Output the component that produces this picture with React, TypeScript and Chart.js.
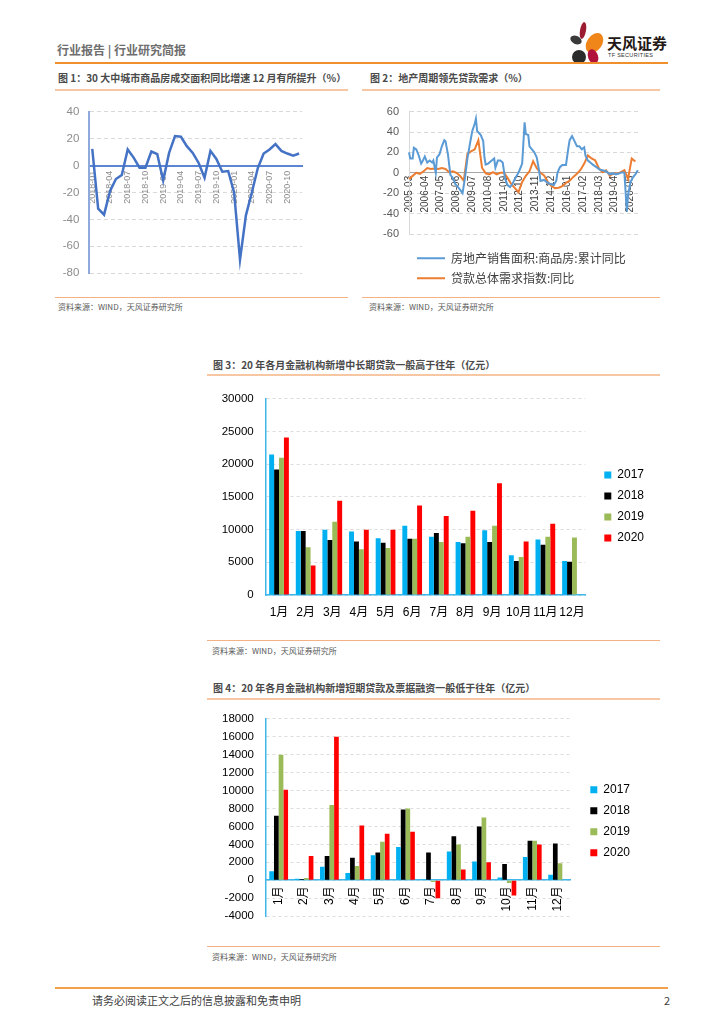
import React, { useEffect, useRef } from 'react';
import { Chart, registerables } from 'chart.js';

Chart.register(...registerables);

const NUM_FONT = "'Liberation Sans', 'Noto Sans CJK SC', sans-serif";
const CJK_FONT = "'Noto Sans CJK SC', 'Liberation Sans', sans-serif";

// ---------- Chart 1 data ----------
const c1Labels = [
  '2018-01', '2018-02', '2018-03', '2018-04', '2018-05', '2018-06', '2018-07', '2018-08', '2018-09', '2018-10', '2018-11', '2018-12',
  '2019-01', '2019-02', '2019-03', '2019-04', '2019-05', '2019-06', '2019-07', '2019-08', '2019-09', '2019-10', '2019-11', '2019-12',
  '2020-01', '2020-02', '2020-03', '2020-04', '2020-05', '2020-06', '2020-07', '2020-08', '2020-09', '2020-10', '2020-11', '2020-12',
];
const c1Values = [
  12.5, -32, -36.5, -19, -10, -7, 12, 6, -1.5, -1.5, 10.5, 8.5,
  -11, 9.5, 22, 21.5, 14.5, 9.5, 2, -9, 11, 5, -4.5, -4,
  -20, -70, -37, -20, -2, 9, 12, 16, 11, 9, 7.5, 9,
];

// ---------- Chart 2 data ----------
const c2Start = [2005, 3];
const c2End = [2020, 12];
const c2Blue: [string, number][] = [
  ['2005-03', 20], ['2005-04', 14], ['2005-06', 14], ['2005-07', 24.5], ['2005-09', 23], ['2005-11', 17],
  ['2006-01', 9], ['2006-02', 11], ['2006-04', 16], ['2006-06', 10], ['2006-08', 12], ['2006-10', 10], ['2006-11', 12],
  ['2007-01', 0], ['2007-02', 15], ['2007-04', 18], ['2007-06', 26], ['2007-08', 32], ['2007-09', 31], ['2007-11', 18],
  ['2008-01', -2], ['2008-03', -5], ['2008-05', -11], ['2008-08', -15], ['2008-11', -20],
  ['2009-01', -5], ['2009-03', 14], ['2009-05', 28], ['2009-07', 41], ['2009-09', 48], ['2009-10', 53], ['2009-11', 41],
  ['2010-02', 37], ['2010-04', 31], ['2010-05', 15], ['2010-06', 8], ['2010-08', 9], ['2010-11', 12],
  ['2011-01', 14], ['2011-02', 5], ['2011-04', 12], ['2011-06', 12], ['2011-08', 10], ['2011-10', -6], ['2011-12', -12],
  ['2012-02', -14], ['2012-04', -11], ['2012-06', -6], ['2012-08', -2], ['2012-10', 3], ['2012-12', 9],
  ['2013-02', 49.5], ['2013-03', 38], ['2013-05', 37], ['2013-06', 26], ['2013-08', 23], ['2013-10', 20], ['2013-12', 15],
  ['2014-02', 1.5], ['2014-03', -8], ['2014-06', -7], ['2014-08', -9], ['2014-11', -11],
  ['2015-02', -12], ['2015-04', -8], ['2015-05', 0], ['2015-07', 5.5], ['2015-09', 7.7], ['2015-11', 7.7], ['2015-12', 7.7],
  ['2016-02', 24.6], ['2016-03', 32], ['2016-05', 36], ['2016-07', 31], ['2016-09', 26], ['2016-11', 26],
  ['2017-01', 23], ['2017-03', 25], ['2017-04', 17], ['2017-06', 12], ['2017-08', 10], ['2017-10', 8],
  ['2018-01', 5.5], ['2018-04', 3], ['2018-06', 2.5], ['2018-09', 1.5], ['2018-12', -1.5],
  ['2019-03', -0.6], ['2019-05', -1.5], ['2019-08', -0.6], ['2019-10', 0.6], ['2019-12', 0],
  ['2020-02', -38], ['2020-03', -22], ['2020-05', -9], ['2020-07', -4.5], ['2020-09', -1.5], ['2020-11', 2.5],
];
const c2Orange: [string, number][] = [
  ['2005-03', -6], ['2005-06', -3], ['2005-09', 0], ['2005-12', -1],
  ['2006-03', 1.5], ['2006-06', 4.6], ['2006-09', 3.7], ['2006-12', 4.2],
  ['2007-03', 3.7], ['2007-06', 4.6], ['2007-09', 3.7], ['2007-12', 0.6],
  ['2008-03', 1.5], ['2008-06', 0], ['2008-09', -3], ['2008-12', -7.7],
  ['2009-03', 18.5], ['2009-06', 21], ['2009-09', 23], ['2009-12', 32],
  ['2010-03', 5], ['2010-06', -0.6], ['2010-09', -1.5], ['2010-12', 0.6],
  ['2011-03', -1.5], ['2011-06', 0], ['2011-09', 0], ['2011-12', -5],
  ['2012-03', -11], ['2012-06', -15], ['2012-09', -19], ['2012-12', -9],
  ['2013-03', -3], ['2013-06', 1.5], ['2013-09', 11.4], ['2013-12', 4.6],
  ['2014-03', 0], ['2014-06', -2.5], ['2014-09', -9], ['2014-12', -13],
  ['2015-03', -15], ['2015-06', -14.6], ['2015-09', -13], ['2015-12', -10],
  ['2016-03', -7.7], ['2016-06', -4], ['2016-09', -1], ['2016-12', 3],
  ['2017-03', 9], ['2017-06', 17], ['2017-09', 14], ['2017-12', 12.3],
  ['2018-03', 4.6], ['2018-06', 0.6], ['2018-09', 2.5], ['2018-12', -3],
  ['2019-03', -0.6], ['2019-06', -1], ['2019-09', 0.6], ['2019-12', 2.5],
  ['2020-03', -6], ['2020-06', 14], ['2020-09', 11],
];
const c2SeriesNames = ['房地产销售面积:商品房:累计同比', '贷款总体需求指数:同比'];

// ---------- Chart 3 & 4 data ----------
const monthLabels = ['1月', '2月', '3月', '4月', '5月', '6月', '7月', '8月', '9月', '10月', '11月', '12月'];
const yearNames = ['2017', '2018', '2019', '2020'];
const yearColors = ['#00B0F0', '#000000', '#9BBB59', '#FF0000'];

const c3_2017 = [21500, 9800, 10000, 9700, 8700, 10600, 8900, 8100, 9900, 6100, 8500, 5200];
const c3_2018 = [19200, 9800, 8400, 8200, 8000, 8600, 9500, 7900, 8100, 5200, 7700, 5100];
const c3_2019 = [21000, 7300, 11200, 7000, 7200, 8600, 8100, 8900, 10600, 5800, 8900, 8800];
const c3_2020 = [24100, 4500, 14400, 10000, 10000, 13700, 12100, 12900, 17100, 8200, 10900, null];

const c4_2017 = [1000, 180, 1500, 800, 2800, 3700, 40, 3200, 2100, 300, 2600, 600];
const c4_2018 = [7200, 150, 2700, 2500, 3100, 7900, 3100, 4900, 6000, 1800, 4400, 4100];
const c4_2019 = [14000, 250, 8400, 1600, 4300, 8000, -200, 4000, 7000, -300, 4400, 1900];
const c4_2020 = [10100, 2700, 16000, 6100, 5200, 5400, -2000, 1200, 2000, -1700, 4000, null];

function monthList(start: number[], end: number[]) {
  const out: string[] = [];
  let y = start[0];
  let m = start[1];
  while (y < end[0] || (y === end[0] && m <= end[1])) {
    out.push(`${y}-${String(m).padStart(2, '0')}`);
    m += 1;
    if (m > 12) { m = 1; y += 1; }
  }
  return out;
}

const plainNum = (v: any) => String(v);

function ChartBox(props: { make: () => any; left: number; top: number; width: number; height: number }) {
  const ref = useRef<HTMLCanvasElement>(null);
  useEffect(() => {
    const chart = new Chart(ref.current as HTMLCanvasElement, props.make());
    return () => chart.destroy();
  }, []);
  return (
    <canvas
      ref={ref}
      width={props.width}
      height={props.height}
      style={{ position: 'absolute', left: props.left, top: props.top, width: props.width, height: props.height }}
    />
  );
}

function makeChart1() {
  return {
    type: 'line',
    data: {
      labels: c1Labels,
      datasets: [{ data: c1Values, borderColor: '#4472C4', backgroundColor: '#4472C4', borderWidth: 2.5, pointRadius: 0, tension: 0, fill: false }],
    },
    options: {
      animation: false,
      responsive: false,
      layout: { padding: { top: 12, right: 6, bottom: 11, left: 0 } },
      plugins: { legend: { display: false }, tooltip: { enabled: false } },
      scales: {
        x: {
          type: 'category',
          offset: true,
          position: { y: 0 },
          grid: { display: false, drawTicks: false },
          border: { display: true, color: '#5b85d3', width: 2 },
          ticks: {
            autoSkip: false,
            minRotation: 90,
            maxRotation: 90,
            padding: 5,
            color: '#8c8c8c',
            font: { size: 9, family: NUM_FONT },
            callback: function (this: any, v: any, i: number) { return i % 3 === 0 ? this.getLabelForValue(v) : ''; },
          },
        },
        y: {
          min: -80,
          max: 40,
          afterFit: (s: any) => { s.width = 39.3; },
          grid: { color: '#d9d9d9', drawTicks: false, lineWidth: 1 },
          border: { display: true, color: '#8eaadb', width: 2, dash: [4, 3] },
          ticks: { stepSize: 20, padding: 10, color: '#8c8c8c', font: { size: 11.5, family: NUM_FONT }, callback: plainNum },
        },
      },
    },
  };
}

function makeChart2() {
  const labels = monthList(c2Start, c2End);
  return {
    type: 'line',
    data: {
      labels,
      datasets: [
        { label: c2SeriesNames[0], data: c2Blue.map(([x, y]) => ({ x, y })), borderColor: '#5B9BD5', backgroundColor: '#5B9BD5', borderWidth: 2, pointRadius: 0, tension: 0 },
        { label: c2SeriesNames[1], data: c2Orange.map(([x, y]) => ({ x, y })), borderColor: '#ED7D31', backgroundColor: '#ED7D31', borderWidth: 2, pointRadius: 0, tension: 0 },
      ],
    },
    options: {
      animation: false,
      responsive: false,
      layout: { padding: { top: 11.7, right: 21, bottom: 0.8, left: 0 } },
      plugins: {
        tooltip: { enabled: false },
        legend: {
          position: 'bottom',
          align: 'start',
          fullSize: false,
          title: { display: true, text: '', font: { size: 1 }, padding: { top: 9, bottom: 0 } },
          labels: {
            usePointStyle: true,
            pointStyle: 'line',
            pointStyleWidth: 28,
            padding: 8,
            color: '#404040',
            font: { size: 12, family: CJK_FONT },
          },
        },
      },
      scales: {
        x: {
          type: 'category',
          offset: false,
          position: { y: 0 },
          grid: { display: false, drawTicks: false },
          border: { display: true, color: '#a6a6a6', width: 1 },
          ticks: {
            autoSkip: false,
            minRotation: 90,
            maxRotation: 90,
            padding: 3,
            color: '#404040',
            font: { size: 10, family: NUM_FONT },
            callback: function (this: any, v: any, i: number) { return i % 13 === 0 ? this.getLabelForValue(v) : ''; },
          },
        },
        y: {
          min: -60,
          max: 60,
          afterFit: (s: any) => { s.width = 47; },
          grid: { color: '#d9d9d9', drawTicks: false },
          border: { display: true, color: '#d9d9d9', width: 1, dash: [4, 3] },
          ticks: { stepSize: 20, padding: 10, color: '#595959', font: { size: 11, family: NUM_FONT }, callback: plainNum },
        },
      },
    },
  };
}

function barDatasets(series: (number | null)[][]) {
  return series.map((d, i) => ({
    label: yearNames[i],
    data: d,
    backgroundColor: yearColors[i],
    borderColor: yearColors[i],
    borderWidth: 0,
    barPercentage: 1,
    categoryPercentage: 0.74,
  }));
}

function barLegend() {
  return {
    position: 'right',
    align: 'center',
    labels: { boxWidth: 7, boxHeight: 7, padding: 9, color: '#000', font: { size: 12, family: NUM_FONT } },
  };
}

function makeChart3() {
  return {
    type: 'bar',
    data: { labels: monthLabels, datasets: barDatasets([c3_2017, c3_2018, c3_2019, c3_2020]) },
    options: {
      animation: false,
      responsive: false,
      layout: { padding: { top: 15, right: 2, bottom: 12, left: 0 } },
      plugins: { tooltip: { enabled: false }, legend: barLegend() },
      scales: {
        x: {
          afterFit: (s: any) => { s.height = 23; },
          grid: { display: false, drawTicks: false },
          border: { display: true, color: '#3db7ec', width: 1.5 },
          ticks: { padding: 10, color: '#000', font: { size: 12, family: NUM_FONT }, autoSkip: false, maxRotation: 0 },
        },
        y: {
          min: 0,
          max: 30000,
          afterFit: (s: any) => { s.width = 65.7; },
          grid: { color: '#dcdcdc', drawTicks: false },
          border: { display: true, color: '#3db7ec', width: 1.5, dash: [3, 3] },
          ticks: { stepSize: 5000, padding: 12, color: '#000', font: { size: 11.5, family: NUM_FONT }, callback: plainNum },
        },
        yR: {
          position: 'right',
          display: true,
          afterFit: (s: any) => { s.width = 10; },
          grid: { display: false, drawTicks: false },
          border: { display: false },
          ticks: { display: false },
        },
      },
    },
  };
}

function makeChart4() {
  return {
    type: 'bar',
    data: { labels: monthLabels, datasets: barDatasets([c4_2017, c4_2018, c4_2019, c4_2020]) },
    options: {
      animation: false,
      responsive: false,
      layout: { padding: { top: 18.3, right: 2, bottom: 11, left: 0 } },
      plugins: { tooltip: { enabled: false }, legend: barLegend() },
      scales: {
        x: {
          position: { y: 0 },
          grid: { display: false, drawTicks: false },
          border: { display: true, color: '#3db7ec', width: 1.5 },
          ticks: { padding: 6, color: '#000', font: { size: 12, family: NUM_FONT }, autoSkip: false, minRotation: 90, maxRotation: 90 },
        },
        y: {
          min: -4000,
          max: 18000,
          afterFit: (s: any) => { s.width = 66; },
          grid: { color: '#dcdcdc', drawTicks: false },
          border: { display: true, color: '#3db7ec', width: 1.5, dash: [3, 3] },
          ticks: { stepSize: 2000, padding: 12, color: '#000', font: { size: 11.5, family: NUM_FONT }, callback: plainNum },
        },
        yR: {
          position: 'right',
          display: true,
          afterFit: (s: any) => { s.width = 11; },
          grid: { display: false, drawTicks: false },
          border: { display: false },
          ticks: { display: false },
        },
      },
    },
  };
}

const abs = (s: React.CSSProperties): React.CSSProperties => ({ position: 'absolute', ...s });

function Text(props: { left: number; top: number; size: number; color?: string; bold?: boolean; children: React.ReactNode }) {
  return (
    <div
      style={abs({
        left: props.left,
        top: props.top,
        fontSize: props.size,
        lineHeight: 1,
        color: props.color || '#404040',
        fontWeight: props.bold ? 700 : 400,
        fontFamily: CJK_FONT,
        whiteSpace: 'nowrap',
      })}
    >
      {props.children}
    </div>
  );
}

function Rule(props: { left: number; top: number; width: number; height: number; color: string }) {
  return <div style={abs({ left: props.left, top: props.top, width: props.width, height: props.height, background: props.color })} />;
}

function Logo() {
  const petal = (left: number, top: number, w: number, h: number, color: string, rot: number) => (
    <div style={abs({ left, top, width: w, height: h, background: color, borderRadius: '50%', transform: `rotate(${rot}deg)` })} />
  );
  return (
    <>
      {petal(580, 22, 6, 17, '#9b1b30', 10)}
      {petal(570, 36, 12, 8, '#3a3a3a', 25)}
      {petal(587, 32, 15, 22, '#f08519', 35)}
      {petal(572, 50, 14, 14, '#2b2b2b', 0)}
      {petal(588, 49, 10, 15, '#b0123b', -20)}
      <Text left={607} top={35} size={15} color="#231815" bold>天风证券</Text>
      <div style={abs({ left: 608, top: 53, fontSize: 5.5, lineHeight: 1, color: '#333', fontFamily: NUM_FONT, letterSpacing: 0.3, whiteSpace: 'nowrap' })}>TF SECURITIES</div>
    </>
  );
}

export default function App() {
  const src = '资料来源：WIND，天风证券研究所';
  return (
    <div style={abs({ left: 0, top: 0, width: 724, height: 1024, background: '#fff', overflow: 'hidden' })}>
      {/* Header */}
      <Text left={57} top={44} size={12} color="#6e6e6e" bold>行业报告 | 行业研究简报</Text>
      <Logo />
      <Rule left={55} top={62} width={613} height={2} color="#f0902c" />

      {/* Chart 1 */}
      <Text left={58} top={73} size={10} color="#4a4a4a" bold>图 1：30 大中城市商品房成交面积同比增速 12 月有所提升（%）</Text>
      <Rule left={55} top={88.5} width={293} height={2} color="#f7c7a3" />
      <ChartBox make={makeChart1} left={50} top={95} width={265} height={195} />
      <Rule left={55} top={296.5} width={293} height={1.5} color="#f4b183" />
      <Text left={58} top={303} size={8} color="#595959">{src}</Text>

      {/* Chart 2 */}
      <Text left={370} top={73} size={10} color="#4a4a4a" bold>图 2：地产周期领先贷款需求（%）</Text>
      <Rule left={362} top={88.5} width={298} height={2} color="#f7c7a3" />
      <ChartBox make={makeChart2} left={362} top={95} width={298} height={200} />
      <Rule left={362} top={296.5} width={298} height={1.5} color="#f4b183" />
      <Text left={369} top={303} size={8} color="#595959">{src}</Text>

      {/* Chart 3 */}
      <Text left={213} top={360} size={10} color="#4a4a4a" bold>图 3：20 年各月金融机构新增中长期贷款一般高于往年（亿元）</Text>
      <Rule left={207} top={373.5} width={453} height={2} color="#f7c7a3" />
      <ChartBox make={makeChart3} left={200} top={380} width={456} height={250} />
      <Rule left={207} top={639.5} width={453} height={1.5} color="#f4b183" />
      <Text left={212} top={647} size={8} color="#595959">{src}</Text>

      {/* Chart 4 */}
      <Text left={213} top={683} size={10} color="#4a4a4a" bold>图 4：20 年各月金融机构新增短期贷款及票据融资一般低于往年（亿元）</Text>
      <Rule left={207} top={697.5} width={453} height={2} color="#f7c7a3" />
      <ChartBox make={makeChart4} left={200} top={700} width={442} height={235} />
      <Rule left={207} top={945.5} width={453} height={1.5} color="#f4b183" />
      <Text left={212} top={953} size={8} color="#595959">{src}</Text>

      {/* Footer */}
      <Rule left={55} top={987} width={613} height={2} color="#f0a04b" />
      <Text left={92} top={994.5} size={11} color="#404040">请务必阅读正文之后的信息披露和免责申明</Text>
      <Text left={664} top={994.5} size={11} color="#404040">2</Text>
    </div>
  );
}
